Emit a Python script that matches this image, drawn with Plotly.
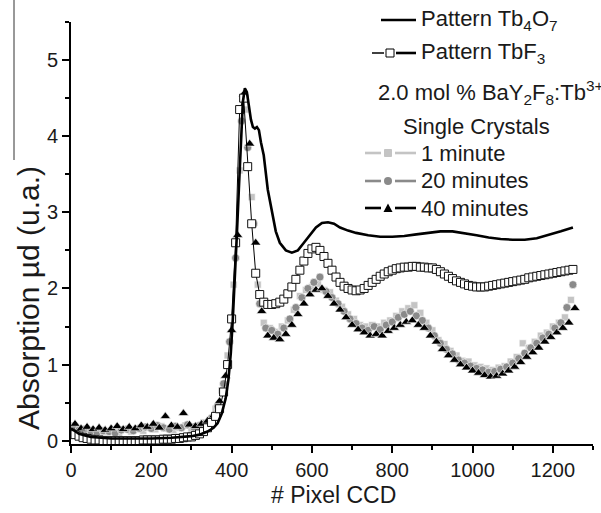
import plotly.graph_objects as go

# ---------------- data ----------------
tb4o7_x = [0, 10, 20, 35, 50, 75, 100, 150, 200, 250, 280, 300, 320, 340, 355, 365, 375, 385,
           392, 398, 403, 408, 413, 418, 423, 428, 433, 438, 443, 448, 453, 458, 463, 468,
           473, 480, 490, 500, 510, 520, 535, 550, 565, 580, 595, 610, 625, 640, 655, 670,
           690, 710, 740, 770, 800, 830, 860, 890, 920, 950, 980, 1010, 1040, 1070, 1100,
           1130, 1160, 1190, 1220, 1250]
tb4o7_y = [0.16, 0.12, 0.09, 0.07, 0.05, 0.04, 0.03, 0.03, 0.03, 0.04, 0.05, 0.06, 0.08, 0.12,
           0.17, 0.23, 0.35, 0.55, 0.80, 1.15, 1.60, 2.10, 2.70, 3.30, 3.95, 4.45, 4.63, 4.58,
           4.40, 4.22, 4.12, 4.10, 4.12, 4.08, 3.92, 3.75, 3.30, 3.00, 2.75, 2.60, 2.50, 2.47,
           2.50, 2.60, 2.70, 2.80, 2.86, 2.87, 2.85, 2.80, 2.76, 2.73, 2.70, 2.68, 2.68, 2.69,
           2.71, 2.73, 2.75, 2.75, 2.73, 2.70, 2.67, 2.65, 2.64, 2.64, 2.66, 2.70, 2.75, 2.80]

tbf3_x = list(range(0, 1260, 10))
tbf3_y = [
    0.10, 0.08, 0.06, 0.04, 0.03, 0.02, 0.01, 0.01, 0.00, 0.00,
    0.00, 0.00, 0.00, 0.00, 0.00, 0.00, 0.00, 0.00, 0.01, 0.01,
    0.01, 0.01, 0.01, 0.02, 0.02, 0.02, 0.03, 0.03, 0.04, 0.05,
    0.05, 0.07, 0.09, 0.12, 0.17, 0.24, 0.32, 0.42, 0.64, 1.00,
    1.60, 2.60, 4.35, 4.50, 3.60, 2.85, 2.20, 1.92, 1.82, 1.79,
    1.79, 1.80, 1.82, 1.86, 1.93, 2.02, 2.12, 2.24, 2.36, 2.46,
    2.52, 2.54, 2.50, 2.42, 2.33, 2.24, 2.15, 2.08, 2.03, 2.00,
    1.98, 1.97, 1.98, 2.00, 2.04, 2.08, 2.12, 2.16, 2.19, 2.22,
    2.24, 2.26, 2.27, 2.28, 2.28, 2.29, 2.29, 2.28, 2.28, 2.27,
    2.27, 2.25, 2.22, 2.19, 2.16, 2.13, 2.10, 2.08, 2.06, 2.04,
    2.03, 2.02, 2.02, 2.02, 2.03, 2.04, 2.05, 2.06, 2.07, 2.08,
    2.09, 2.10, 2.11, 2.12, 2.14, 2.15, 2.16, 2.17, 2.18, 2.19,
    2.20, 2.21, 2.22, 2.23, 2.24, 2.25]

min1_x = list(range(0, 1250, 15))
min1_y = [
    0.20, 0.16, 0.13, 0.10, 0.12, 0.09, 0.11, 0.14, 0.10, 0.15, 0.12, 0.16,
    0.13, 0.17, 0.15, 0.19, 0.16, 0.14, 0.17, 0.20, 0.16, 0.19, 0.24, 0.27,
    0.42, 0.66, 1.12, 2.05, 3.55, 4.35, 3.20, 2.05, 1.55, 1.48, 1.43, 1.50,
    1.58, 1.72, 1.90, 1.98, 2.02, 2.06, 1.98, 1.95, 1.84, 1.76, 1.66, 1.60,
    1.52, 1.50, 1.52, 1.50, 1.55, 1.58, 1.64, 1.70, 1.74, 1.78, 1.68, 1.55,
    1.45, 1.32, 1.27, 1.18, 1.12, 1.05, 1.04, 0.99, 0.97, 0.95, 0.93, 0.96,
    0.98, 1.04, 1.10, 1.28, 1.22, 1.30, 1.38, 1.42, 1.50, 1.55, 1.62, 1.85]

min20_x = list(range(5, 1255, 15))
min20_y = [
    0.17, 0.14, 0.15, 0.12, 0.11, 0.13, 0.12, 0.10, 0.14, 0.15, 0.13, 0.16,
    0.18, 0.16, 0.20, 0.17, 0.15, 0.19, 0.17, 0.21, 0.18, 0.20, 0.23, 0.30,
    0.45, 0.75, 1.30, 2.40, 4.20, 3.85, 2.85, 1.80, 1.48, 1.45, 1.40, 1.48,
    1.60, 1.75, 1.88, 2.00, 2.08, 2.15, 1.96, 1.88, 1.80, 1.70, 1.60, 1.54,
    1.48, 1.45, 1.50, 1.46, 1.52, 1.56, 1.62, 1.66, 1.70, 1.64, 1.58, 1.48,
    1.38, 1.28, 1.20, 1.14, 1.06, 1.02, 0.98, 0.95, 0.93, 0.90, 0.91, 0.94,
    0.97, 1.02, 1.08, 1.15, 1.22, 1.28, 1.35, 1.40, 1.48, 1.55, 1.75, 2.05]

min40_x = list(range(10, 1260, 15))
min40_y = [
    0.22, 0.16, 0.18, 0.15, 0.17, 0.14, 0.16, 0.19, 0.15, 0.18, 0.16, 0.20,
    0.18, 0.22, 0.17, 0.32, 0.20, 0.18, 0.36, 0.21, 0.19, 0.22, 0.26, 0.33,
    0.52, 0.85, 1.45, 2.70, 4.55, 3.90, 2.60, 1.70, 1.38, 1.35, 1.33, 1.40,
    1.52, 1.66, 1.80, 1.92, 1.98, 2.00, 1.90, 1.80, 1.72, 1.62, 1.52, 1.46,
    1.42, 1.38, 1.40, 1.38, 1.44, 1.48, 1.52, 1.56, 1.58, 1.52, 1.48, 1.38,
    1.30, 1.20, 1.12, 1.06, 1.00, 0.96, 0.92, 0.89, 0.86, 0.84, 0.85, 0.88,
    0.92, 0.97, 1.03, 1.10, 1.16, 1.22, 1.30, 1.36, 1.42, 1.48, 1.55, 1.74]

x_ticks = [0, 200, 400, 600, 800, 1000, 1200]
y_ticks = [0, 1, 2, 3, 4, 5]

# ---------------- geometry ----------------
W, H = 601, 513
ML, MR, MT, MB = 71, 8, 22, 69
PW = W - ML - MR
PH = H - MT - MB
FONT = "Liberation Sans, Arial, sans-serif"
C1, C20, C40 = "#c4c4c4", "#8a8a8a", "#000000"


def px(x):
    return (x - ML) / PW


def py(y):
    return (H - MB - y) / PH


fig = go.Figure()

fig.add_trace(go.Scatter(x=min1_x, y=min1_y, mode="markers",
                         marker=dict(symbol="square", size=7, color=C1,
                                     line=dict(width=0.6, color="white"))))
fig.add_trace(go.Scatter(x=min20_x, y=min20_y, mode="markers",
                         marker=dict(symbol="circle", size=8, color=C20,
                                     line=dict(width=0.6, color="white"))))
fig.add_trace(go.Scatter(x=min40_x, y=min40_y, mode="markers",
                         marker=dict(symbol="triangle-up", size=9, color=C40,
                                     line=dict(width=0.6, color="white"))))
fig.add_trace(go.Scatter(x=tbf3_x, y=tbf3_y, mode="lines+markers",
                         line=dict(color="black", width=1),
                         marker=dict(symbol="square", size=8, color="white",
                                     line=dict(width=1, color="#111111"))))
fig.add_trace(go.Scatter(x=tb4o7_x, y=tb4o7_y, mode="lines",
                         line=dict(color="black", width=2.6)))

axis_common = dict(showline=True, linecolor="black", linewidth=2, ticks="outside",
                   ticklen=7, tickwidth=2, tickcolor="black", showgrid=False,
                   zeroline=False, mirror=False,
                   tickfont=dict(family=FONT, size=20, color="#1a1a1a"))
fig.update_xaxes(range=[0, 1300], tickvals=x_ticks,
                 minor=dict(ticks="outside", ticklen=4, tickwidth=2, tickcolor="black",
                            tick0=0, dtick=100, showgrid=False),
                 **axis_common)
fig.update_yaxes(range=[-0.043, 5.5], tickvals=y_ticks,
                 minor=dict(ticks="outside", ticklen=4, tickwidth=2, tickcolor="black",
                            tick0=0, dtick=0.5, showgrid=False),
                 **axis_common)

shapes = []
annotations = []

# axis titles
annotations.append(dict(text="# Pixel CCD", x=px(333), y=py(495), xref="paper", yref="paper",
                        showarrow=False, xanchor="center", yanchor="middle",
                        font=dict(family=FONT, size=23, color="#1a1a1a")))
annotations.append(dict(text="Absorption µd (u.a.)", x=px(28), y=py(298), xref="paper",
                        yref="paper", showarrow=False, textangle=-90, xanchor="center",
                        yanchor="middle", font=dict(family=FONT, size=30, color="#1a1a1a")))

# scan artefact line top-left
shapes.append(dict(type="line", xref="paper", yref="paper", x0=px(14), x1=px(14),
                   y0=py(0), y1=py(160), line=dict(color="#333333", width=1)))


def hline(x0, x1, y, color="black", width=2.6):
    shapes.append(dict(type="line", xref="paper", yref="paper", x0=px(x0), x1=px(x1),
                       y0=py(y), y1=py(y), line=dict(color=color, width=width)))


def label(text, x, y, size=22):
    annotations.append(dict(text=text, x=px(x), y=py(y), xref="paper", yref="paper",
                            showarrow=False, xanchor="left", yanchor="middle",
                            font=dict(family=FONT, size=size, color="#1a1a1a")))


def square(cx, cy, s, fill, edge):
    shapes.append(dict(type="rect", xref="paper", yref="paper",
                       x0=px(cx - s / 2), x1=px(cx + s / 2), y0=py(cy + s / 2), y1=py(cy - s / 2),
                       fillcolor=fill, line=dict(color=edge, width=1)))


def circle(cx, cy, s, fill):
    shapes.append(dict(type="circle", xref="paper", yref="paper",
                       x0=px(cx - s / 2), x1=px(cx + s / 2), y0=py(cy + s / 2), y1=py(cy - s / 2),
                       fillcolor=fill, line=dict(color=fill, width=0)))


def triangle(cx, cy, s, fill):
    path = "M {} {} L {} {} L {} {} Z".format(px(cx - s / 2), py(cy + s / 2.3),
                                              px(cx + s / 2), py(cy + s / 2.3),
                                              px(cx), py(cy - s / 2))
    shapes.append(dict(type="path", xref="paper", yref="paper", path=path,
                       fillcolor=fill, line=dict(color=fill, width=0)))


# legend rows
hline(381, 416, 20)
label("Pattern Tb<sub>4</sub>O<sub>7</sub>", 419, 20)

hline(372, 384, 53, "black", 1.5)
hline(396, 416, 53)
square(390, 53, 8, "white", "black")
label("Pattern TbF<sub>3</sub>", 419, 53)

label("2.0 mol % BaY<sub>2</sub>F<sub>8</sub>:Tb<sup>3+</sup>", 376, 92)
label("Single Crystals", 401, 126)

for yy, col, kind, txt in [(153, C1, "s", "1 minute"), (181, C20, "c", "20 minutes"),
                           (208, C40, "t", "40 minutes")]:
    hline(365, 381, yy, col)
    hline(395, 416, yy, col)
    if kind == "s":
        square(388, yy, 7, col, col)
    elif kind == "c":
        circle(388, yy, 8, col)
    else:
        triangle(388, yy, 9, col)
    label(txt, 419, yy)

fig.update_layout(width=W, height=H, margin=dict(l=ML, r=MR, t=MT, b=MB),
                  paper_bgcolor="white", plot_bgcolor="white", showlegend=False,
                  shapes=shapes, annotations=annotations,
                  font=dict(family=FONT, color="#1a1a1a"))

fig.write_html("out.html",
               config={"displayModeBar": False},
               post_script="document.body.style.margin='0px';"
                           "document.body.style.padding='0px';")
